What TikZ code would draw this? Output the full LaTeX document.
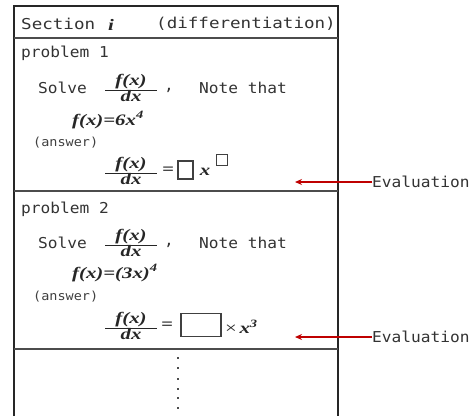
\documentclass[tikz,border=0pt]{standalone}
\usepackage{fontspec}
\setmonofont{DejaVu Sans Mono}[FakeStretch=1.08]
\newfontfamily\hdrmono{DejaVu Sans Mono}[FakeStretch=1.17]
\newfontfamily\tms{Liberation Serif}[FakeStretch=1.3]
\usetikzlibrary{arrows.meta}
\newcommand\fdxfrac{$\textstyle\frac{\mbox{\hspace{10pt}\tms\itshape\bfseries f(x)\hspace{10pt}}}{\mbox{\tms\itshape\bfseries dx}}$}
\tikzset{
  txt/.style={font=\ttfamily\fontsize{15}{17}\selectfont, text=black!80, inner sep=0pt, anchor=west},
  hdrtxt/.style={font=\hdrmono\fontsize{15}{17}\selectfont, text=black!80, inner sep=0pt, anchor=west},
  smalltxt/.style={font=\ttfamily\fontsize{12.5}{14}\selectfont, text=black!75, inner sep=0pt, anchor=west},
  mth/.style={font=\tms\itshape\bfseries\fontsize{16}{18}\selectfont, text=black!85, inner sep=0pt},
  fracnode/.style={font=\fontsize{16}{18}\selectfont, text=black!85, inner sep=0pt},
  frame/.style={line width=1.8pt, black!85},
  sepline/.style={line width=2pt, black!70},
  ansbox/.style={draw=black!75, line width=1.2pt, inner sep=0pt},
  evarrow/.style={draw=red!75!black, line width=1.6pt, -{Stealth[length=7pt,width=6pt]}},
  dotnode/.style={rectangle, fill=black!70, inner sep=0pt, minimum width=2.6pt, minimum height=2pt},
}
\begin{document}
\begin{tikzpicture}[x=1pt,y=-1pt]
\useasboundingbox (0,0) rectangle (474,416);
\fill[white] (0,0) rectangle (474,416);
% frame
\coordinate (tl) at (14,6);
\coordinate (tr) at (338,6);
\coordinate (bl) at (14,416);
\coordinate (br) at (338,416);
\draw[frame] (bl) -- (tl) -- (tr) -- (br);
\coordinate (h1l) at (14,38); \coordinate (h1r) at (338,38);
\coordinate (s1l) at (14,191); \coordinate (s1r) at (338,191);
\coordinate (s2l) at (14,349); \coordinate (s2r) at (338,349);
\draw[sepline] (h1l) -- (h1r);
\draw[sepline] (s1l) -- (s1r);
\draw[sepline] (s2l) -- (s2r);
% header
\node[hdrtxt] (sec) at (21,24) {Section};
\node[mth, anchor=west] (seci) at (108,25) {i};
\node[hdrtxt] (diff) at (156,24) {(differentiation)};
% problem 1
\node[txt] (p1) at (21,53) {problem 1};
\node[txt] (solve1) at (38,88) {Solve};
\node[fracnode] (fr1) at (131,88) {\fdxfrac};
\node[txt] (com1) at (164,90) {,};
\node[txt] (note1) at (199,88) {Note that};
\node[mth, anchor=west] (fx1) at (72,120) {f(x)=6x\textsuperscript{4}};
\node[smalltxt] (ans1) at (33,143) {(answer)};
\node[fracnode] (afr1) at (131,171) {\fdxfrac};
\node[mth] (eq1) at (168,171) {=};
\node[ansbox, minimum width=15pt, minimum height=18pt] (box1) at (185.5,170) {};
\node[mth] (x1) at (205,172) {x};
\node[ansbox, minimum width=11pt, minimum height=11pt] (sup1) at (222,160) {};
\node[txt] (ev1) at (372,182) {Evaluation};
\coordinate (tip1) at (295,182);
\draw[evarrow] (ev1.west) -- (tip1);
% problem 2
\node[txt] (p2) at (21,209) {problem 2};
\node[txt] (solve2) at (38,243) {Solve};
\node[fracnode] (fr2) at (131,243) {\fdxfrac};
\node[txt] (com2) at (164,245) {,};
\node[txt] (note2) at (199,243) {Note that};
\node[mth, anchor=west] (fx2) at (72,273) {f(x)=(3x)\textsuperscript{4}};
\node[smalltxt] (ans2) at (33,297) {(answer)};
\node[fracnode] (afr2) at (131,326) {\fdxfrac};
\node[mth] (eq2) at (167,326) {=};
\node[ansbox, minimum width=40pt, minimum height=23pt] (box2) at (201,325) {};
\node[mth, anchor=west] (x2) at (225,327) {{\upshape\mdseries ×}\,x\textsuperscript{3}};
\node[txt] (ev2) at (372,337) {Evaluation};
\coordinate (tip2) at (295,337);
\draw[evarrow] (ev2.west) -- (tip2);
% continuation dots
\foreach \i/\yy in {1/358,2/368,3/379,4/389,5/398,6/408}{
  \node[dotnode] (d\i) at (178,\yy) {};
}
\end{tikzpicture}
\end{document}
